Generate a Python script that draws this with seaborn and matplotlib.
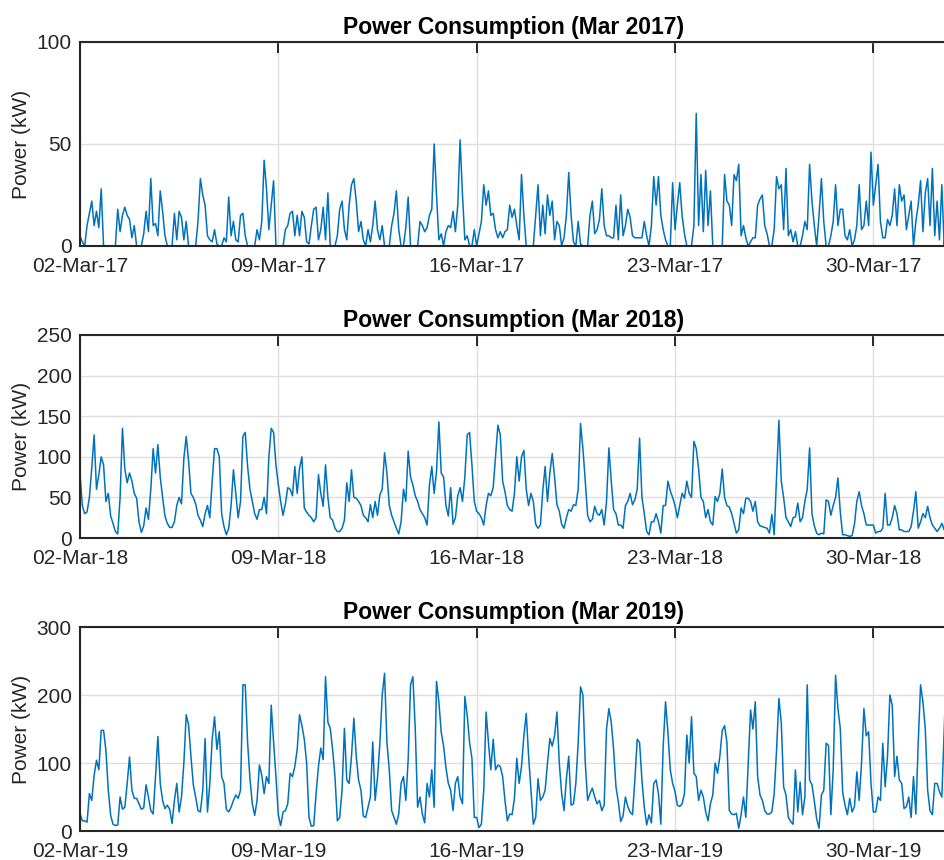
import numpy as np
import pandas as pd
import matplotlib
matplotlib.use("Agg")
import matplotlib.pyplot as plt
import matplotlib.dates as mdates
import seaborn as sns

# Two-hourly power readings (kW), one row per day starting 02-Mar
power_2017 = [
    5, 2, 0, 10, 16, 22, 10, 17, 9, 28, 0, 0,
    0, 0, 0, 0, 18, 7, 15, 19, 15, 13, 4, 10,
    0, 0, 0, 6, 17, 7, 33, 10, 11, 5, 27, 17,
    5, 0, 0, 0, 16, 3, 17, 14, 3, 12, 0, 0,
    0, 0, 12, 33, 25, 20, 5, 3, 2, 8, 1, 0,
    0, 4, 2, 24, 5, 12, 3, 2, 15, 16, 5, 0,
    0, 0, 0, 8, 3, 12, 42, 28, 8, 20, 32, 0,
    0, 0, 0, 8, 10, 16, 17, 5, 15, 5, 17, 14,
    2, 1, 10, 18, 19, 3, 8, 19, 3, 26, 0, 0,
    0, 5, 18, 22, 8, 3, 20, 30, 33, 22, 7, 12,
    3, 0, 8, 2, 10, 22, 8, 3, 10, 0, 0, 0,
    10, 16, 27, 8, 0, 0, 9, 24, 0, 0, 0, 0,
    12, 10, 7, 9, 15, 18, 50, 25, 3, 6, 0, 7,
    10, 9, 17, 7, 20, 52, 25, 3, 5, 0, 0, 8,
    0, 6, 12, 30, 20, 27, 15, 16, 8, 4, 7, 4,
    7, 8, 20, 14, 18, 10, 3, 35, 15, 0, 0, 0,
    0, 15, 30, 5, 20, 6, 25, 15, 22, 3, 12, 10,
    0, 4, 15, 36, 15, 2, 0, 12, 1, 0, 0, 0,
    15, 22, 6, 8, 13, 28, 10, 5, 5, 4, 4, 20,
    3, 25, 5, 10, 18, 14, 5, 4, 4, 4, 4, 12,
    5, 0, 10, 34, 20, 34, 15, 8, 3, 0, 0, 31,
    8, 20, 31, 15, 6, 0, 0, 0, 10, 65, 10, 35,
    7, 37, 10, 27, 0, 0, 0, 0, 0, 35, 22, 20,
    10, 35, 32, 40, 5, 10, 4, 0, 2, 4, 4, 20,
    23, 25, 10, 6, 0, 0, 8, 34, 28, 30, 8, 38,
    5, 8, 2, 7, 0, 0, 5, 12, 8, 40, 22, 10,
    0, 15, 33, 12, 0, 0, 5, 12, 30, 10, 18, 18,
    5, 3, 8, 0, 3, 10, 30, 8, 10, 22, 10, 46,
    20, 30, 40, 12, 4, 4, 13, 10, 15, 28, 10, 30,
    22, 25, 8, 15, 22, 0, 12, 20, 32, 7, 26, 33,
    10, 38, 5, 22, 3, 30, 0, 15,
]

power_2018 = [
    80, 40, 30, 32, 50, 86, 127, 60, 78, 100, 90, 45,
    55, 27, 18, 8, 5, 50, 135, 85, 68, 80, 70, 55,
    49, 20, 7, 15, 37, 23, 60, 110, 80, 115, 75, 50,
    27, 18, 13, 13, 20, 40, 50, 42, 98, 125, 95, 55,
    50, 42, 28, 22, 14, 30, 40, 25, 70, 110, 110, 100,
    30, 14, 4, 12, 40, 84, 55, 25, 45, 125, 130, 88,
    60, 45, 30, 23, 35, 35, 50, 30, 100, 135, 130, 90,
    66, 45, 28, 42, 62, 60, 52, 88, 55, 86, 100, 37,
    32, 28, 25, 20, 25, 78, 55, 39, 90, 50, 25, 22,
    12, 8, 8, 12, 22, 68, 45, 84, 50, 49, 45, 40,
    28, 25, 20, 41, 25, 45, 28, 53, 60, 105, 80, 40,
    28, 20, 12, 5, 20, 60, 45, 107, 75, 65, 52, 45,
    35, 30, 25, 16, 65, 88, 55, 82, 143, 80, 75, 40,
    27, 62, 17, 25, 52, 62, 45, 75, 127, 130, 90, 45,
    33, 30, 25, 16, 40, 55, 52, 62, 100, 139, 127, 70,
    57, 40, 35, 33, 55, 100, 70, 100, 108, 60, 40, 55,
    45, 17, 12, 16, 58, 88, 45, 80, 104, 75, 41, 33,
    17, 12, 25, 35, 33, 41, 40, 60, 141, 110, 70, 28,
    20, 23, 39, 30, 28, 35, 16, 45, 111, 70, 35, 30,
    16, 16, 12, 40, 45, 55, 41, 47, 60, 123, 50, 30,
    8, 4, 20, 20, 30, 20, 6, 40, 40, 70, 58, 50,
    40, 25, 40, 55, 49, 70, 55, 50, 119, 110, 85, 50,
    45, 25, 35, 20, 16, 51, 45, 55, 85, 50, 40, 38,
    30, 18, 6, 10, 37, 30, 49, 49, 45, 33, 45, 20,
    15, 14, 13, 12, 6, 29, 4, 76, 145, 70, 50, 25,
    20, 14, 25, 26, 43, 20, 25, 45, 60, 111, 30, 15,
    6, 4, 6, 5, 47, 45, 28, 40, 50, 74, 32, 4,
    4, 3, 2, 3, 17, 45, 57, 40, 30, 16, 16, 16,
    16, 6, 8, 8, 12, 55, 16, 16, 25, 40, 30, 10,
    10, 8, 8, 8, 14, 33, 57, 12, 20, 30, 25, 39,
    25, 16, 12, 8, 12, 18, 10, 40,
]

power_2019 = [
    26, 15, 15, 13, 55, 45, 82, 104, 90, 148, 148, 118,
    60, 23, 10, 8, 9, 50, 32, 35, 70, 109, 60, 48,
    48, 40, 32, 34, 68, 50, 30, 25, 80, 139, 70, 45,
    33, 38, 32, 11, 45, 70, 28, 50, 100, 171, 156, 110,
    68, 50, 30, 28, 60, 136, 28, 70, 135, 168, 120, 146,
    80, 70, 32, 28, 35, 45, 53, 48, 60, 215, 215, 130,
    77, 40, 23, 45, 97, 82, 55, 80, 70, 185, 131, 80,
    24, 8, 28, 30, 40, 85, 80, 95, 120, 171, 155, 135,
    100, 20, 7, 8, 55, 95, 122, 105, 227, 160, 151, 120,
    80, 15, 20, 60, 151, 75, 70, 110, 166, 110, 75, 60,
    22, 20, 35, 50, 131, 45, 78, 128, 200, 232, 130, 90,
    30, 20, 10, 25, 70, 80, 45, 105, 215, 227, 150, 35,
    50, 25, 12, 70, 50, 90, 35, 220, 190, 145, 125, 93,
    70, 60, 30, 70, 80, 50, 40, 198, 170, 130, 107, 20,
    20, 5, 10, 60, 175, 130, 90, 135, 90, 97, 95, 80,
    45, 15, 25, 24, 48, 107, 70, 95, 140, 173, 110, 60,
    10, 20, 77, 45, 50, 60, 100, 136, 125, 140, 175, 100,
    55, 30, 77, 110, 38, 40, 70, 130, 212, 200, 100, 45,
    55, 63, 50, 40, 45, 30, 38, 150, 180, 160, 120, 65,
    43, 14, 22, 50, 36, 28, 24, 75, 135, 130, 75, 35,
    9, 24, 12, 70, 75, 55, 10, 125, 190, 145, 90, 70,
    58, 38, 36, 40, 55, 141, 100, 168, 85, 80, 45, 60,
    50, 28, 15, 40, 53, 100, 85, 110, 148, 155, 130, 30,
    25, 24, 26, 4, 24, 50, 20, 100, 178, 150, 190, 80,
    53, 45, 30, 25, 25, 28, 55, 118, 195, 160, 65, 53,
    20, 14, 10, 90, 28, 72, 24, 50, 215, 75, 68, 44,
    18, 4, 53, 60, 129, 126, 24, 90, 229, 180, 151, 57,
    38, 24, 48, 28, 36, 87, 45, 100, 180, 140, 146, 70,
    28, 28, 50, 45, 129, 65, 110, 200, 185, 80, 110, 75,
    70, 33, 36, 50, 20, 80, 25, 130, 215, 190, 150, 60,
    30, 24, 70, 70, 58, 50, 150, 240,
]

years = [2017, 2018, 2019]
series = [power_2017, power_2018, power_2019]
titles = ["Power Consumption (Mar 2017)",
          "Power Consumption (Mar 2018)",
          "Power Consumption (Mar 2019)"]
y_limits = [100, 250, 300]
y_steps = [50, 50, 100]
tick_days = [2, 9, 16, 23, 30]

sns.set_style("white")
plt.rcParams["font.family"] = ["Liberation Sans", "DejaVu Sans"]

LINE = "#0072BD"
DARK = "#262626"

fig = plt.figure(figsize=(9.44, 8.60), dpi=100)
# axes boxes in figure fractions: left, bottom, width, height
boxes = [
    (0.0847, 0.7140, 0.918, 0.2372),
    (0.0847, 0.3744, 0.918, 0.2361),
    (0.0847, 0.0337, 0.918, 0.2372),
]

for year, values, title, ymax, ystep, box in zip(years, series, titles,
                                                  y_limits, y_steps, boxes):
    ax = fig.add_axes(box)
    times = pd.date_range(f"{year}-03-02 00:00", periods=len(values), freq="2h")
    df = pd.DataFrame({"time": times, "power": values})
    sns.lineplot(data=df, x="time", y="power", ax=ax, color=LINE,
                 linewidth=1.1, estimator=None)

    ax.set_xlim(times[0], times[-1])
    ax.set_ylim(0, ymax)
    ax.set_yticks(np.arange(0, ymax + 1, ystep))
    ax.set_xticks([pd.Timestamp(f"{year}-03-{d:02d}") for d in tick_days])
    ax.xaxis.set_major_formatter(mdates.DateFormatter("%d-%b-%y"))

    ax.set_axisbelow(True)
    ax.grid(True, color="#dedede", linewidth=1.0)
    for spine in ax.spines.values():
        spine.set_color(DARK)
        spine.set_linewidth(1.5)
    ax.tick_params(direction="in", length=8, width=1.4, top=True, right=False,
                   labelsize=15, colors=DARK, pad=6)
    ax.tick_params(axis="x", pad=8)

    ax.set_xlabel("")
    ax.set_ylabel("Power (kW)", fontsize=15, color=DARK, labelpad=4)
    ax.set_title(title, fontsize=16.5, fontweight="bold", color="black", pad=6)

fig.savefig("out.png", dpi=100)
